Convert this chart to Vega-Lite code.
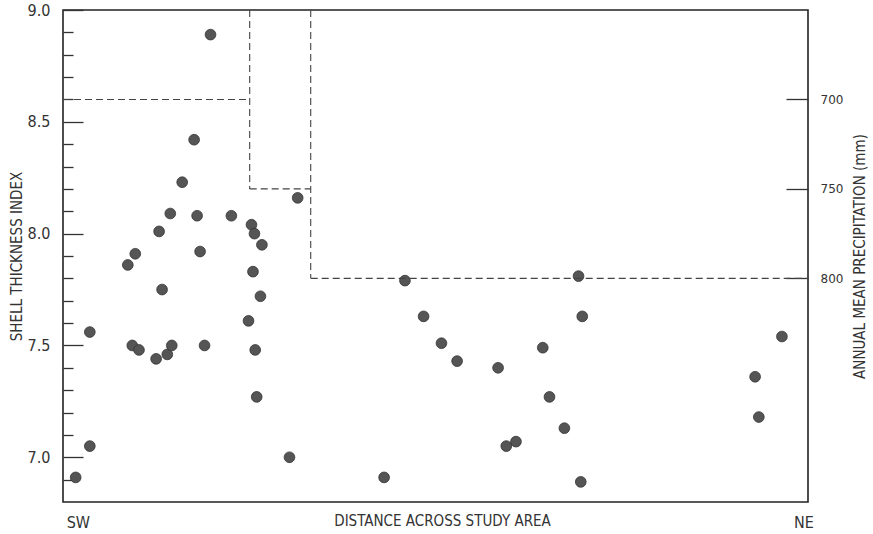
{
  "$schema": "https://vega.github.io/schema/vega-lite/v6.json",
  "width": 745,
  "height": 492,
  "autosize": {"type": "none"},
  "padding": {"left": 63, "top": 10, "right": 65, "bottom": 32},
  "background": "white",
  "config": {
    "view": {"stroke": "#222", "strokeWidth": 1.6},
    "axis": {"grid": false, "labelColor": "#333", "titleColor": "#333", "titleFontWeight": "normal", "tickColor": "#333", "domain": false}
  },
  "datasets": {
    "pts": [
      {"x": 1.7, "index": 6.91}, {"x": 3.6, "index": 7.05}, {"x": 3.6, "index": 7.56},
      {"x": 8.7, "index": 7.86}, {"x": 9.7, "index": 7.91}, {"x": 9.3, "index": 7.50},
      {"x": 10.2, "index": 7.48}, {"x": 12.5, "index": 7.44}, {"x": 14.0, "index": 7.46},
      {"x": 14.6, "index": 7.50}, {"x": 13.3, "index": 7.75}, {"x": 12.9, "index": 8.01},
      {"x": 14.4, "index": 8.09}, {"x": 16.0, "index": 8.23}, {"x": 17.6, "index": 8.42},
      {"x": 18.0, "index": 8.08}, {"x": 18.4, "index": 7.92}, {"x": 19.0, "index": 7.50},
      {"x": 19.8, "index": 8.89}, {"x": 22.6, "index": 8.08}, {"x": 25.3, "index": 8.04},
      {"x": 25.7, "index": 8.00}, {"x": 26.7, "index": 7.95}, {"x": 25.5, "index": 7.83},
      {"x": 26.5, "index": 7.72}, {"x": 24.9, "index": 7.61}, {"x": 25.8, "index": 7.48},
      {"x": 26.0, "index": 7.27}, {"x": 30.4, "index": 7.00}, {"x": 31.5, "index": 8.16},
      {"x": 43.1, "index": 6.91}, {"x": 45.9, "index": 7.79}, {"x": 48.4, "index": 7.63},
      {"x": 50.8, "index": 7.51}, {"x": 52.9, "index": 7.43}, {"x": 58.4, "index": 7.40},
      {"x": 59.5, "index": 7.05}, {"x": 60.8, "index": 7.07}, {"x": 64.4, "index": 7.49},
      {"x": 65.3, "index": 7.27}, {"x": 67.3, "index": 7.13}, {"x": 69.2, "index": 7.81},
      {"x": 69.7, "index": 7.63}, {"x": 69.5, "index": 6.89}, {"x": 92.9, "index": 7.36},
      {"x": 93.4, "index": 7.18}, {"x": 96.5, "index": 7.54}
    ],
    "bounds": [
      {"xa": 0, "xb": 25.06, "pa": 700, "pb": 700},
      {"xa": 25.06, "xb": 25.06, "pa": 650, "pb": 750},
      {"xa": 25.06, "xb": 33.25, "pa": 750, "pb": 750},
      {"xa": 33.25, "xb": 33.25, "pa": 650, "pb": 800},
      {"xa": 33.25, "xb": 100, "pa": 800, "pb": 800}
    ]
  },
  "layer": [
    {
      "data": {"name": "pts"},
      "mark": {"type": "point", "filled": true, "shape": "circle", "size": 115, "fill": "#555", "stroke": "#333", "strokeWidth": 0.8, "opacity": 1},
      "encoding": {
        "x": {
          "field": "x", "type": "quantitative",
          "scale": {"domain": [0, 100], "nice": false, "zero": false},
          "axis": {
            "title": "DISTANCE ACROSS STUDY AREA",
            "values": [2, 99.4],
            "labelExpr": "datum.value < 50 ? 'SW' : 'NE'",
            "ticks": false, "labelPadding": 12, "labelFlush": false,
            "labelFont": "DejaVu Sans Condensed, Roboto Condensed, Roboto, sans-serif", "labelFontSize": 16,
            "titleFont": "DejaVu Sans Condensed, Roboto Condensed, Roboto, sans-serif", "titleFontSize": 15,
            "titlePadding": -17, "titleX": 379
          }
        },
        "y": {
          "field": "index", "type": "quantitative",
          "scale": {"domain": [6.8, 9.0], "nice": false, "zero": false},
          "axis": {
            "orient": "left",
            "title": "SHELL THICKNESS INDEX",
            "values": [6.9, 7.0, 7.1, 7.2, 7.3, 7.4, 7.5, 7.6, 7.7, 7.8, 7.9, 8.0, 8.1, 8.2, 8.3, 8.4, 8.5, 8.6, 8.7, 8.8, 8.9, 9.0],
            "labelExpr": "abs(datum.value*2 - round(datum.value*2)) < 0.001 ? format(datum.value, '.1f') : ''",
            "tickSize": {"condition": {"test": "abs(datum.value*2 - round(datum.value*2)) < 0.001", "value": -20}, "value": -10},
            "tickWidth": 1.3,
            "labelPadding": 33,
            "labelFont": "DejaVu Sans Condensed, Roboto Condensed, Roboto, sans-serif", "labelFontSize": 16,
            "titleFont": "DejaVu Sans Condensed, Roboto Condensed, Roboto, sans-serif", "titleFontSize": 15,
            "titlePadding": 3
          }
        }
      }
    },
    {
      "data": {"name": "bounds"},
      "mark": {"type": "rule", "stroke": "#444", "strokeWidth": 1.1, "strokeDash": [7, 4]},
      "encoding": {
        "x": {
          "field": "xa", "type": "quantitative",
          "scale": {"domain": [0, 100], "nice": false, "zero": false},
          "axis": {
            "title": "DISTANCE ACROSS STUDY AREA",
            "values": [2, 99.4],
            "labelExpr": "datum.value < 50 ? 'SW' : 'NE'",
            "ticks": false, "labelPadding": 12, "labelFlush": false,
            "labelFont": "DejaVu Sans Condensed, Roboto Condensed, Roboto, sans-serif", "labelFontSize": 16,
            "titleFont": "DejaVu Sans Condensed, Roboto Condensed, Roboto, sans-serif", "titleFontSize": 15,
            "titlePadding": -17, "titleX": 379
          }
        },
        "x2": {"field": "xb"},
        "y": {
          "field": "pa", "type": "quantitative",
          "scale": {"domain": [650, 925], "reverse": true, "nice": false, "zero": false},
          "axis": {
            "orient": "right",
            "title": "ANNUAL MEAN PRECIPITATION (mm)",
            "values": [700, 750, 800],
            "tickSize": -22, "tickWidth": 1.3,
            "labelPadding": 34,
            "labelFont": "DejaVu Sans", "labelFontSize": 12,
            "titleFont": "DejaVu Sans Condensed, Roboto Condensed, Roboto, sans-serif", "titleFontSize": 15,
            "titleAngle": 270,
            "titlePadding": 25
          }
        },
        "y2": {"field": "pb"}
      }
    }
  ],
  "resolve": {"scale": {"y": "independent"}, "axis": {"y": "independent"}}
}
